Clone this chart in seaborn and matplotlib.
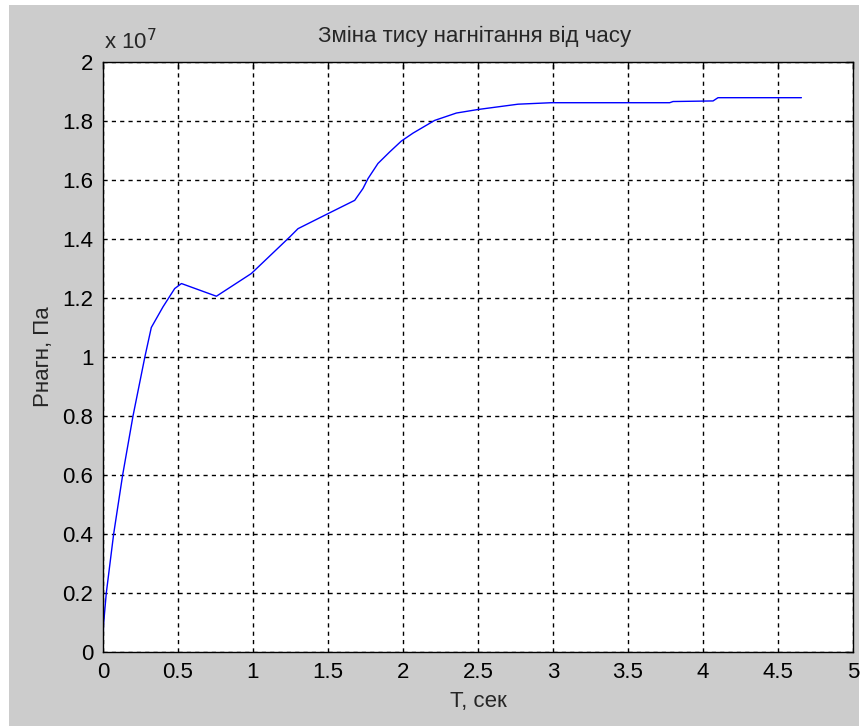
import matplotlib
matplotlib.use("Agg")
import matplotlib.pyplot as plt
import seaborn as sns
import pandas as pd
from matplotlib.patches import Rectangle

# Data (pressure in units of 1e7 Pa)
t_sec = [0.0, 0.003, 0.022, 0.071, 0.131, 0.200, 0.279, 0.322, 0.400, 0.478,
         0.523, 0.756, 0.989, 1.245, 1.300, 1.500, 1.678, 1.733, 1.767, 1.833,
         1.911, 1.989, 2.067, 2.211, 2.356, 2.500, 2.767, 2.989, 3.778, 3.800,
         4.067, 4.100, 4.656]
p_1e7 = [0.0, 0.09, 0.20, 0.40, 0.60, 0.80, 1.00, 1.10, 1.17, 1.232,
         1.249, 1.206, 1.283, 1.407, 1.435, 1.486, 1.531, 1.571, 1.605, 1.656,
         1.695, 1.732, 1.759, 1.802, 1.827, 1.839, 1.857, 1.862, 1.862, 1.866,
         1.868, 1.879, 1.879]
x_ticks = [0, 0.5, 1, 1.5, 2, 2.5, 3, 3.5, 4, 4.5, 5]
x_tick_labels = ["0", "0.5", "1", "1.5", "2", "2.5", "3", "3.5", "4", "4.5", "5"]
y_ticks = [0, 0.2, 0.4, 0.6, 0.8, 1.0, 1.2, 1.4, 1.6, 1.8, 2.0]
y_tick_labels = ["0", "0.2", "0.4", "0.6", "0.8", "1", "1.2", "1.4", "1.6", "1.8", "2"]
title = "Зміна тису нагнітання від часу"
x_label = "Т, сек"
y_label = "Рнагн, Па"

sns.set_style("white")
fam = ["Liberation Sans Narrow", "Liberation Sans", "DejaVu Sans"]
plt.rcParams["font.family"] = fam
FS = 16

W, H = 865, 726
fig = plt.figure(figsize=(W / 100, H / 100), dpi=100, facecolor="white")
fig.patches.append(Rectangle((9 / W, 0), (859 - 9) / W, 1 - 5 / H,
                             transform=fig.transFigure, facecolor="#cccccc",
                             edgecolor="none", zorder=-10))

ax = fig.add_axes([103 / W, 1 - 652 / H, (853 - 103) / W, (652 - 62) / H])
ax.set_facecolor("white")

df = pd.DataFrame({"t": t_sec, "p": p_1e7})
sns.lineplot(data=df, x="t", y="p", ax=ax, color="#0000ff", linewidth=1.0,
             estimator=None, sort=False)

ax.set_xlim(0, 5)
ax.set_ylim(0, 2)
ax.set_xticks(x_ticks)
ax.set_xticklabels(x_tick_labels)
ax.set_yticks(y_ticks)
ax.set_yticklabels(y_tick_labels)
ax.grid(True, color="black", linestyle=(0, (3, 3)), linewidth=1.0)
ax.tick_params(direction="in", length=5, width=1, colors="black",
               labelsize=FS, top=True, right=True, pad=7)
for s in ax.spines.values():
    s.set_visible(True)
    s.set_color("black")
    s.set_linewidth(1.0)

ax.set_xlabel("")
ax.set_ylabel("")
fig.text(478 / W, 1 - 702 / H, x_label, ha="center", va="center", fontsize=FS)
fig.text(43 / W, 1 - 357 / H, y_label, ha="center", va="center",
         rotation=90, fontsize=FS)
fig.text(475 / W, 1 - 36 / H, title, ha="center", va="center", fontsize=FS)
fig.text(104 / W, 1 - 42 / H, "x 10$^7$", ha="left", va="center", fontsize=FS)

fig.savefig("out.png", dpi=100, facecolor="white")
